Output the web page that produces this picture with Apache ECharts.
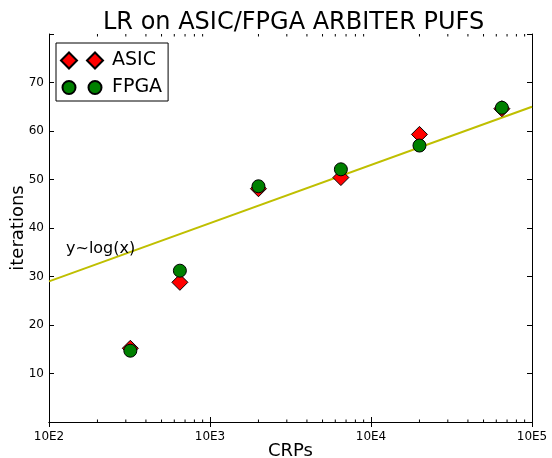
<!DOCTYPE html>
<html><head><meta charset="utf-8">
<script src="https://cdn.jsdelivr.net/npm/echarts@6/dist/echarts.min.js"></script>
<style>html,body{margin:0;padding:0;background:#fff}#c{width:552px;height:458px}</style>
</head><body><div id="c"></div>
<script>
const crps = [320, 650, 2000, 6500, 20000, 65000];
const asic = [15.2, 28.8, 48.1, 50.4, 59.3, 64.6];
const fpga = [14.7, 31.2, 48.6, 52.1, 57.0, 64.8];
const fitX = [100, 100000];
const fitY = [29, 65];
const xMin = 100, xMax = 100000;
const yMin = 0, yMax = 80, yStep = 10;
const minorTicks = [200,300,400,500,600,700,800,900,2000,3000,4000,5000,6000,7000,8000,9000,20000,30000,40000,50000,60000,70000,80000,90000];

const FONT = 'DejaVu Sans';
const chart = echarts.init(document.getElementById('c'), null, {renderer: 'canvas'});

const diamondIcon = 'path://M0,8L8,0L16,8L8,16Z M26,8L34,0L42,8L34,16Z';
const circleIcon = 'path://M0,0 M42,16 M1.5,8A6.5,6.5 0 1 1 14.5,8A6.5,6.5 0 1 1 1.5,8Z M27.5,8A6.5,6.5 0 1 1 40.5,8A6.5,6.5 0 1 1 27.5,8Z';

const axisLine = {show: true, lineStyle: {color: '#000', width: 1}};
const tickIn = {show: true, inside: true, length: 5, lineStyle: {color: '#000', width: 1}};

chart.setOption({
  animation: false,
  backgroundColor: '#fff',
  title: {
    text: 'LR on ASIC/FPGA ARBITER PUFS',
    left: 98, top: 6,
    textStyle: {fontFamily: FONT, fontSize: 24, fontWeight: 'normal', color: '#000'}
  },
  grid: {left: 49, right: 20, top: 34, bottom: 36, containLabel: false, outerBoundsMode: 'none'},
  legend: {
    orient: 'vertical', left: 56, top: 43,
    padding: [8, 6, 4, 4], itemGap: 8,
    itemWidth: 42, itemHeight: 16,
    borderColor: '#000', borderWidth: 1, backgroundColor: '#fff',
    textStyle: {fontFamily: FONT, fontSize: 19, color: '#000', padding: [0, 0, 0, 4]},
    data: [
      {name: 'ASIC', icon: diamondIcon},
      {name: 'FPGA', icon: circleIcon}
    ]
  },
  xAxis: [{
    type: 'log', logBase: 10, min: xMin, max: xMax,
    position: 'bottom',
    axisLine: axisLine, axisTick: tickIn,
    splitLine: {show: false},
    axisLabel: {
      fontFamily: FONT, fontSize: 12, color: '#000', margin: 9,
      formatter: v => '10E' + Math.round(Math.log10(v))
    },
    name: 'CRPs', nameLocation: 'middle', nameGap: 20, nameMoveOverlap: false,
    nameTextStyle: {fontFamily: FONT, fontSize: 18, color: '#000'}
  }, {
    type: 'log', logBase: 10, min: xMin, max: xMax,
    position: 'top',
    axisLine: axisLine, axisTick: tickIn,
    splitLine: {show: false}, axisLabel: {show: false}
  }],
  yAxis: [{
    type: 'value', min: yMin, max: yMax, interval: yStep,
    position: 'left',
    axisLine: axisLine, axisTick: tickIn,
    splitLine: {show: false},
    axisLabel: {
      fontFamily: FONT, fontSize: 12, color: '#000', margin: 5,
      formatter: v => (v === yMin || v === yMax) ? '' : String(v)
    },
    name: 'iterations', nameLocation: 'middle', nameGap: 22, nameRotate: 90, nameMoveOverlap: false,
    nameTextStyle: {fontFamily: FONT, fontSize: 18, color: '#000'}
  }, {
    type: 'value', min: yMin, max: yMax, interval: yStep,
    position: 'right',
    axisLine: axisLine, axisTick: tickIn,
    splitLine: {show: false}, axisLabel: {show: false}
  }],
  graphic: [{
    type: 'text', left: 66, top: 241, z: 10,
    style: {text: 'y~log(x)', fontFamily: FONT, fontSize: 16, fill: '#000'}
  }],
  series: [{
    name: 'minor', type: 'custom', silent: true, z: 1,
    xAxisIndex: 0, yAxisIndex: 0,
    data: minorTicks.map(v => [v]),
    renderItem: function (params, api) {
      const b = api.coord([api.value(0), yMin]);
      const t = api.coord([api.value(0), yMax]);
      const st = {stroke: '#000', lineWidth: 1};
      return {type: 'group', children: [
        {type: 'line', shape: {x1: b[0], y1: b[1], x2: b[0], y2: b[1] - 2.5}, style: st},
        {type: 'line', shape: {x1: t[0], y1: t[1], x2: t[0], y2: t[1] + 2.5}, style: st}
      ]};
    }
  }, {
    name: 'fit', type: 'line', z: 2,
    data: fitX.map((x, i) => [x, fitY[i]]),
    symbol: 'none', lineStyle: {color: '#bfbf00', width: 2}, silent: true
  }, {
    name: 'ASIC', type: 'scatter', z: 3,
    data: crps.map((x, i) => [x, asic[i]]),
    symbol: 'diamond', symbolSize: 16,
    itemStyle: {color: '#ff0000', borderColor: '#000', borderWidth: 1, opacity: 1}
  }, {
    name: 'FPGA', type: 'scatter', z: 4,
    data: crps.map((x, i) => [x, fpga[i]]),
    symbol: 'circle', symbolSize: 13,
    itemStyle: {color: '#008000', borderColor: '#000', borderWidth: 1, opacity: 1}
  }]
});
</script>
</body></html>
